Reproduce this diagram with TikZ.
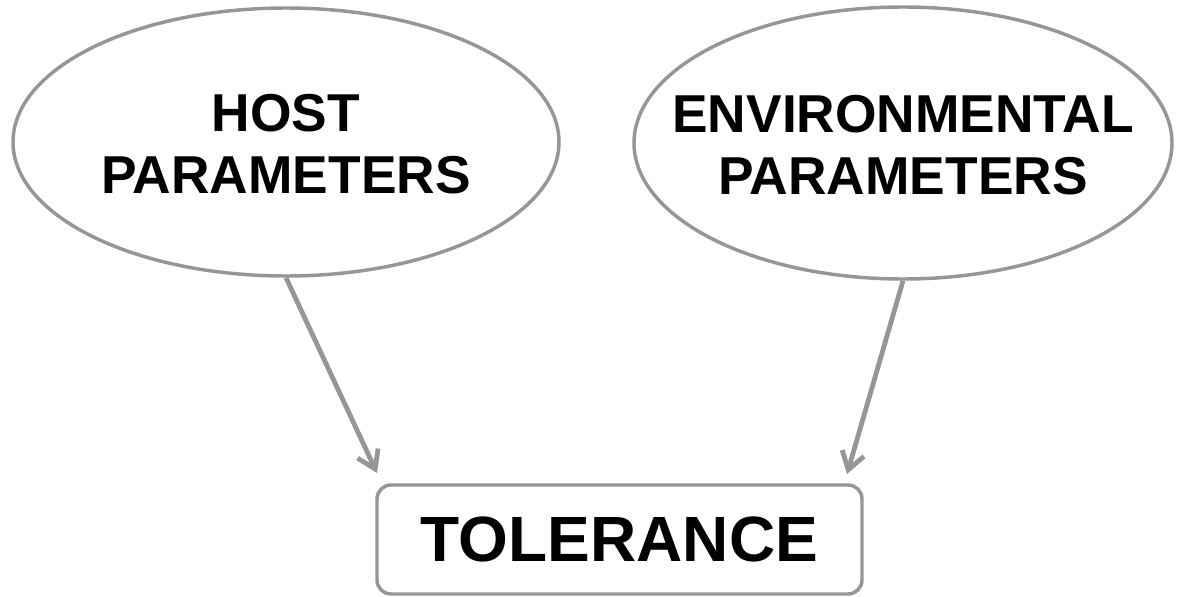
\documentclass[tikz,border=0pt]{standalone}
\usepackage{fontspec}
\setmainfont{Liberation Sans}
\usetikzlibrary{shapes.geometric,arrows.meta}
\definecolor{edgegray}{RGB}{150,150,150}
\begin{document}
\begin{tikzpicture}[x=0.75pt,y=-0.75pt,
  param/.style={ellipse, draw=edgegray, line width=2.6pt, inner sep=0pt},
  paramtext/.style={align=center, inner sep=0pt, yshift=-1.5pt, font=\fontsize{40}{46.5}\selectfont\bfseries},
  tolbox/.style={rectangle, rounded corners=10.5pt, draw=edgegray, line width=2.6pt,
    minimum width=363.75pt, minimum height=81.75pt, inner sep=0pt,
    font=\fontsize{48}{56}\selectfont\bfseries},
  arr/.style={draw=edgegray, line width=3.6pt, -{Straight Barb[length=13pt,width=17pt]}}]
\useasboundingbox (0,0) rectangle (1177,596);
\node[param, minimum width=409.5pt, minimum height=201pt,
  label={[paramtext]center:HOST\\PARAMETERS}] (h) at (286,142) {};
\node[param, minimum width=403.5pt, minimum height=204pt,
  label={[paramtext]center:ENVIRONMENTAL\\PARAMETERS}] (r) at (903,143) {};
\node[tolbox] (t) at (619.5,539.5) {TOLERANCE};
\coordinate (lt) at (377,473);
\coordinate (rt) at (847,474);
\draw[arr] (h.south) -- (lt);
\draw[arr] (r.south) -- (rt);
\end{tikzpicture}
\end{document}
